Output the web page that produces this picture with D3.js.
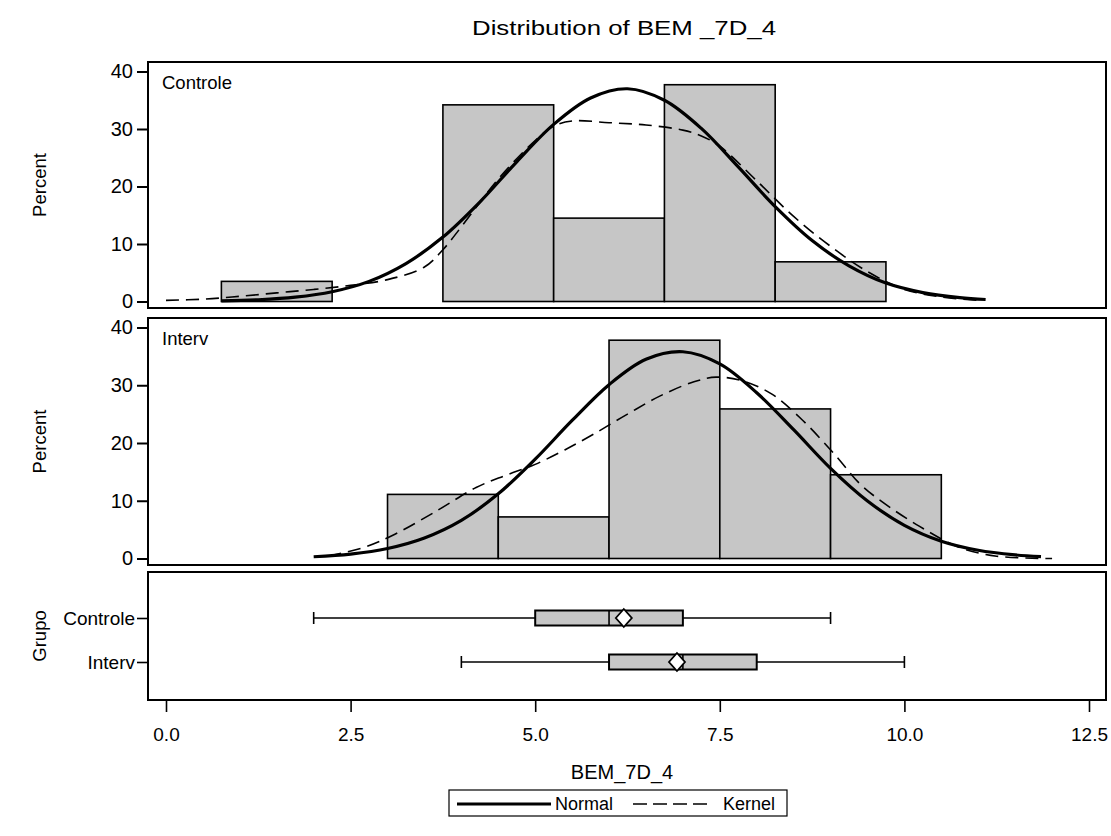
<!DOCTYPE html>
<html>
<head>
<meta charset="utf-8">
<script src="https://cdn.jsdelivr.net/npm/d3@7"></script>
<style>
  body { margin: 0; background: #fff; }
  text { font-family: "Liberation Sans", Arial, sans-serif; fill: #000; }
</style>
</head>
<body>
<svg id="chart" width="1111" height="836"></svg>
<script>
// ---- data ----
const groups = ["Controle", "Interv"];
const binWidth = 1.5;

// histogram bins (midpoints) and percentages
const controleMid = [1.5, 3.0, 4.5, 6.0, 7.5, 9.0];
const controlePct = [3.5, 0, 34.2, 14.5, 37.7, 6.9];
const intervMid = [3.75, 5.25, 6.75, 8.25, 9.75];
const intervPct = [11.1, 7.2, 37.8, 25.9, 14.5];

// fitted normal curves (percent)
const controleNormalX = [0.75, 1.25, 1.75, 2.25, 2.75, 3.25, 3.75, 4.25, 4.75, 5.25, 5.75, 6.25, 6.75, 7.25, 7.75, 8.25, 8.75, 9.25, 9.75, 10.25, 10.75, 11.1];
const controleNormalY = [0.1, 0.3, 0.75, 1.7, 3.5, 6.6, 11.2, 17.3, 24.3, 30.8, 35.4, 37.0, 35.0, 30.1, 23.4, 16.5, 10.6, 6.2, 3.2, 1.55, 0.67, 0.35];
const intervNormalX = [2.0, 2.5, 3.0, 3.5, 4.0, 4.5, 5.0, 5.5, 6.0, 6.5, 7.0, 7.5, 8.0, 8.5, 9.0, 9.5, 10.0, 10.5, 11.0, 11.5, 11.85];
const intervNormalY = [0.3, 0.76, 1.73, 3.55, 6.6, 11.2, 17.2, 23.9, 30.1, 34.5, 35.8, 33.7, 28.7, 22.3, 15.6, 9.95, 5.75, 3.0, 1.43, 0.62, 0.32];

// kernel density curves (percent)
const controleKernelX = [0, 0.5, 1.0, 1.5, 2.0, 2.5, 3.0, 3.5, 3.75, 4.0, 4.5, 5.0, 5.25, 5.5, 6.0, 6.5, 7.0, 7.25, 7.5, 8.0, 8.5, 9.0, 9.5, 10.0, 10.5, 11.0];
const controleKernelY = [0.2, 0.4, 0.9, 1.5, 2.1, 2.8, 3.8, 6.0, 9.0, 13.0, 21.3, 28.0, 30.5, 31.4, 31.1, 30.7, 29.8, 28.8, 27.0, 21.0, 14.8, 9.6, 5.2, 2.1, 0.8, 0.2];
const intervKernelX = [2.2, 2.7, 3.1, 3.7, 4.2, 4.6, 5.0, 5.4, 5.8, 6.25, 6.7, 7.15, 7.45, 7.8, 8.2, 8.6, 9.05, 9.4, 9.7, 10.2, 10.75, 11.25, 12.0];
const intervKernelY = [0.4, 2.0, 4.2, 8.5, 12.3, 14.4, 16.3, 18.8, 21.6, 25.0, 28.2, 30.6, 31.4, 30.8, 28.5, 24.2, 18.1, 12.9, 9.8, 5.6, 1.9, 0.4, 0.0];

// box plot statistics
const boxMin = [2, 4];
const boxQ1 = [5, 6];
const boxMedian = [6, 7];
const boxQ3 = [7, 8];
const boxMax = [9, 10];
const boxMean = [6.2, 6.92];

const xTicks = [0, 2.5, 5, 7.5, 10, 12.5];
const yTicks = [0, 10, 20, 30, 40];

// ---- layout ----
const svg = d3.select("#chart");
const left = 148, right = 1106;
const barFill = "#c6c6c6";
const panels = [
  { name: "Controle", top: 62, bottom: 308, mid: controleMid, pct: controlePct,
    nx: controleNormalX, ny: controleNormalY, kx: controleKernelX, ky: controleKernelY },
  { name: "Interv", top: 318, bottom: 565, mid: intervMid, pct: intervPct,
    nx: intervNormalX, ny: intervNormalY, kx: intervKernelX, ky: intervKernelY }
];
const boxPanel = { top: 572, bottom: 700 };

const x = d3.scaleLinear().domain([0, 12.5]).range([166, 1089]);

// title
svg.append("text")
  .attr("x", 624).attr("y", 35)
  .attr("text-anchor", "middle")
  .attr("font-size", 21)
  .attr("textLength", 304)
  .attr("lengthAdjust", "spacingAndGlyphs")
  .text("Distribution of BEM _7D_4");

// histogram panels
panels.forEach(p => {
  const y = d3.scaleLinear().domain([0, 40]).range([p.bottom - 6.5, p.top + 9.5]);
  const g = svg.append("g");

  g.selectAll("rect.bar")
    .data(p.mid.map((m, i) => ({ m, v: p.pct[i] })).filter(d => d.v > 0))
    .join("rect")
    .attr("class", "bar")
    .attr("x", d => x(d.m - binWidth / 2))
    .attr("width", d => x(d.m + binWidth / 2) - x(d.m - binWidth / 2))
    .attr("y", d => y(d.v))
    .attr("height", d => y(0) - y(d.v))
    .attr("fill", barFill)
    .attr("stroke", "#000")
    .attr("stroke-width", 1.6);

  const line = d3.line().x(d => x(d[0])).y(d => y(d[1])).curve(d3.curveCatmullRom.alpha(0.5));

  g.append("path")
    .attr("d", line(p.kx.map((v, i) => [v, p.ky[i]])))
    .attr("fill", "none")
    .attr("stroke", "#000")
    .attr("stroke-width", 1.6)
    .attr("stroke-dasharray", "13,7");

  g.append("path")
    .attr("d", line(p.nx.map((v, i) => [v, p.ny[i]])))
    .attr("fill", "none")
    .attr("stroke", "#000")
    .attr("stroke-width", 3.2);

  // frame
  g.append("rect")
    .attr("x", left).attr("y", p.top)
    .attr("width", right - left).attr("height", p.bottom - p.top)
    .attr("fill", "none").attr("stroke", "#000").attr("stroke-width", 2);

  // y axis
  const ax = g.append("g")
    .attr("transform", `translate(${left},0)`)
    .call(d3.axisLeft(y).tickValues(yTicks).tickSize(11).tickPadding(4));
  ax.select(".domain").remove();
  ax.selectAll(".tick line").attr("stroke", "#000").attr("stroke-width", 2);
  ax.selectAll(".tick text").attr("font-size", 20).attr("font-family", "Liberation Sans, Arial, sans-serif");

  // inset group label
  g.append("text")
    .attr("x", 162).attr("y", p.top + 27)
    .attr("font-size", 18.5)
    .text(p.name);

  // y axis title
  g.append("text")
    .attr("transform", `translate(46,${(p.top + p.bottom) / 2}) rotate(-90)`)
    .attr("text-anchor", "middle")
    .attr("font-size", 18.5)
    .text("Percent");
});

// box plot panel
const yBox = d3.scalePoint().domain(groups).range([618, 662]);
const gb = svg.append("g");
groups.forEach((grp, i) => {
  const cy = yBox(grp);
  const h = 15;
  // whiskers
  gb.append("line").attr("x1", x(boxMin[i])).attr("x2", x(boxQ1[i]))
    .attr("y1", cy).attr("y2", cy).attr("stroke", "#000").attr("stroke-width", 1.6);
  gb.append("line").attr("x1", x(boxQ3[i])).attr("x2", x(boxMax[i]))
    .attr("y1", cy).attr("y2", cy).attr("stroke", "#000").attr("stroke-width", 1.6);
  [boxMin[i], boxMax[i]].forEach(v => {
    gb.append("line").attr("x1", x(v)).attr("x2", x(v))
      .attr("y1", cy - 6).attr("y2", cy + 6).attr("stroke", "#000").attr("stroke-width", 1.6);
  });
  // box
  gb.append("rect")
    .attr("x", x(boxQ1[i])).attr("width", x(boxQ3[i]) - x(boxQ1[i]))
    .attr("y", cy - h / 2).attr("height", h)
    .attr("fill", barFill).attr("stroke", "#000").attr("stroke-width", 2);
  // median
  gb.append("line").attr("x1", x(boxMedian[i])).attr("x2", x(boxMedian[i]))
    .attr("y1", cy - h / 2).attr("y2", cy + h / 2).attr("stroke", "#000").attr("stroke-width", 1.6);
  // mean diamond
  const mx = x(boxMean[i]);
  gb.append("path")
    .attr("d", `M${mx - 8},${cy} L${mx},${cy - 9} L${mx + 8},${cy} L${mx},${cy + 9} Z`)
    .attr("fill", "#fff").attr("stroke", "#000").attr("stroke-width", 1.8);
});

gb.append("rect")
  .attr("x", left).attr("y", boxPanel.top)
  .attr("width", right - left).attr("height", boxPanel.bottom - boxPanel.top)
  .attr("fill", "none").attr("stroke", "#000").attr("stroke-width", 2);

const axB = gb.append("g")
  .attr("transform", `translate(${left},0)`)
  .call(d3.axisLeft(yBox).tickSize(11).tickPadding(2));
axB.select(".domain").remove();
axB.selectAll(".tick line").attr("stroke", "#000").attr("stroke-width", 1.6);
axB.selectAll(".tick text").attr("font-size", 19).attr("font-family", "Liberation Sans, Arial, sans-serif");

gb.append("text")
  .attr("transform", `translate(46,${(boxPanel.top + boxPanel.bottom) / 2}) rotate(-90)`)
  .attr("text-anchor", "middle")
  .attr("font-size", 18.5)
  .text("Grupo");

// x axis
const axX = svg.append("g")
  .attr("transform", `translate(0,${boxPanel.bottom})`)
  .call(d3.axisBottom(x).tickValues(xTicks).tickFormat(d3.format(".1f")).tickSize(12).tickPadding(16));
axX.select(".domain").remove();
axX.selectAll(".tick line").attr("stroke", "#000").attr("stroke-width", 1.6);
axX.selectAll(".tick text").attr("font-size", 19).attr("font-family", "Liberation Sans, Arial, sans-serif");

svg.append("text")
  .attr("x", 622).attr("y", 779)
  .attr("text-anchor", "middle")
  .attr("font-size", 20)
  .text("BEM_7D_4");

// legend
const lg = svg.append("g");
lg.append("rect").attr("x", 449).attr("y", 790).attr("width", 338).attr("height", 26)
  .attr("fill", "#fff").attr("stroke", "#000").attr("stroke-width", 1.2);
lg.append("line").attr("x1", 457).attr("x2", 551).attr("y1", 804).attr("y2", 804)
  .attr("stroke", "#000").attr("stroke-width", 3);
lg.append("text").attr("x", 555).attr("y", 810).attr("font-size", 18).text("Normal");
lg.append("line").attr("x1", 633).attr("x2", 712).attr("y1", 804).attr("y2", 804)
  .attr("stroke", "#000").attr("stroke-width", 1.6).attr("stroke-dasharray", "14,6");
lg.append("text").attr("x", 723).attr("y", 810).attr("font-size", 18).text("Kernel");
</script>
</body>
</html>
